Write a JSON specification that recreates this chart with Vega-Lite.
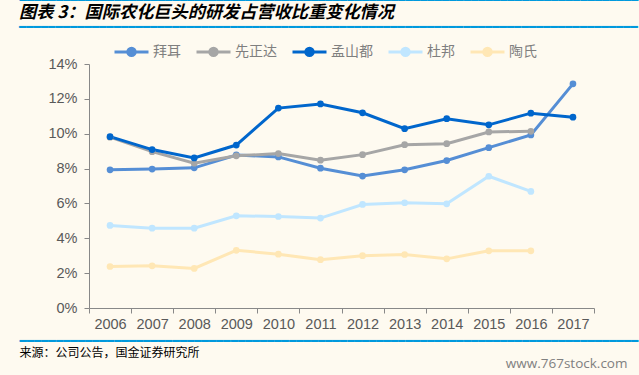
{
  "$schema": "https://vega.github.io/schema/vega-lite/v6.json",
  "width": 505,
  "height": 244,
  "autosize": "none",
  "padding": {"left": 89, "top": 64, "right": 45, "bottom": 67},
  "background": "#FEFAF0",
  "config": {"view": {"stroke": null}},
  "title": {
    "text": "图表 3：国际农化巨头的研发占营收比重变化情况",
    "subtitle": "━━━━━━━━━━━━━━━━━━━━━━━━━━━━━━━━━━━━━━━━━━━━━━━━━━━━━━━━━━━━━━━━━━━━━━━━━━━━━━━━━━━━━",
    "anchor": "start",
    "frame": "group",
    "dx": -70,
    "offset": -40,
    "font": "Noto Sans CJK SC",
    "fontSize": 17.2,
    "fontWeight": "bold",
    "fontStyle": "italic",
    "color": "#000000",
    "subtitleFont": "DejaVu Sans",
    "subtitleFontSize": 12.1,
    "subtitleColor": "#0099DD",
    "subtitlePadding": 0
  },
  "data": {
    "values": [
      {"year": "2006", "company": "拜耳", "value": 7.93},
      {"year": "2007", "company": "拜耳", "value": 7.97},
      {"year": "2008", "company": "拜耳", "value": 8.04},
      {"year": "2009", "company": "拜耳", "value": 8.78},
      {"year": "2010", "company": "拜耳", "value": 8.67},
      {"year": "2011", "company": "拜耳", "value": 8.02},
      {"year": "2012", "company": "拜耳", "value": 7.57},
      {"year": "2013", "company": "拜耳", "value": 7.93},
      {"year": "2014", "company": "拜耳", "value": 8.46},
      {"year": "2015", "company": "拜耳", "value": 9.2},
      {"year": "2016", "company": "拜耳", "value": 9.93},
      {"year": "2017", "company": "拜耳", "value": 12.86},
      {"year": "2006", "company": "先正达", "value": 9.8},
      {"year": "2007", "company": "先正达", "value": 8.97},
      {"year": "2008", "company": "先正达", "value": 8.31},
      {"year": "2009", "company": "先正达", "value": 8.73},
      {"year": "2010", "company": "先正达", "value": 8.86},
      {"year": "2011", "company": "先正达", "value": 8.48},
      {"year": "2012", "company": "先正达", "value": 8.8},
      {"year": "2013", "company": "先正达", "value": 9.37},
      {"year": "2014", "company": "先正达", "value": 9.43},
      {"year": "2015", "company": "先正达", "value": 10.1},
      {"year": "2016", "company": "先正达", "value": 10.14},
      {"year": "2006", "company": "孟山都", "value": 9.83},
      {"year": "2007", "company": "孟山都", "value": 9.09},
      {"year": "2008", "company": "孟山都", "value": 8.61},
      {"year": "2009", "company": "孟山都", "value": 9.35},
      {"year": "2010", "company": "孟山都", "value": 11.47},
      {"year": "2011", "company": "孟山都", "value": 11.71},
      {"year": "2012", "company": "孟山都", "value": 11.2},
      {"year": "2013", "company": "孟山都", "value": 10.29},
      {"year": "2014", "company": "孟山都", "value": 10.86},
      {"year": "2015", "company": "孟山都", "value": 10.51},
      {"year": "2016", "company": "孟山都", "value": 11.18},
      {"year": "2017", "company": "孟山都", "value": 10.95},
      {"year": "2006", "company": "杜邦", "value": 4.74},
      {"year": "2007", "company": "杜邦", "value": 4.58},
      {"year": "2008", "company": "杜邦", "value": 4.58},
      {"year": "2009", "company": "杜邦", "value": 5.29},
      {"year": "2010", "company": "杜邦", "value": 5.25},
      {"year": "2011", "company": "杜邦", "value": 5.16},
      {"year": "2012", "company": "杜邦", "value": 5.94},
      {"year": "2013", "company": "杜邦", "value": 6.04},
      {"year": "2014", "company": "杜邦", "value": 5.98},
      {"year": "2015", "company": "杜邦", "value": 7.56},
      {"year": "2016", "company": "杜邦", "value": 6.69},
      {"year": "2006", "company": "陶氏", "value": 2.38},
      {"year": "2007", "company": "陶氏", "value": 2.42},
      {"year": "2008", "company": "陶氏", "value": 2.27},
      {"year": "2009", "company": "陶氏", "value": 3.31},
      {"year": "2010", "company": "陶氏", "value": 3.09},
      {"year": "2011", "company": "陶氏", "value": 2.77},
      {"year": "2012", "company": "陶氏", "value": 3.0},
      {"year": "2013", "company": "陶氏", "value": 3.07},
      {"year": "2014", "company": "陶氏", "value": 2.82},
      {"year": "2015", "company": "陶氏", "value": 3.28},
      {"year": "2016", "company": "陶氏", "value": 3.28}
    ]
  },
  "layer": [
    {
      "mark": {"type": "line", "strokeWidth": 3},
      "encoding": {
        "x": {
          "field": "year", "type": "ordinal",
          "scale": {"type": "band", "paddingInner": 0, "paddingOuter": 0},
          "bandPosition": 0.5,
          "axis": {
            "orient": "bottom",
            "labelAngle": 0,
            "labelFont": "Liberation Sans",
            "labelFontSize": 14.5,
            "labelColor": "#595959",
            "labelPadding": 4,
            "tickBand": "extent",
            "tickSize": 5,
            "tickColor": "#888888",
            "domainColor": "#888888",
            "grid": false,
            "title": "来源：公司公告，国金证券研究所",
            "titleFont": "Noto Sans CJK SC",
            "titleFontSize": 12,
            "titleFontWeight": "normal",
            "titleColor": "#000000",
            "titleAnchor": "start",
            "titleAlign": "left",
            "titleBaseline": "middle",
            "titleX": -70,
            "titleY": 44
          }
        },
        "y": {
          "field": "value", "type": "quantitative",
          "scale": {"domain": [0, 14], "nice": false, "zero": true},
          "axis": {
            "values": [0, 2, 4, 6, 8, 10, 12, 14],
            "labelExpr": "datum.value + '%'",
            "labelFont": "Liberation Sans",
            "labelFontSize": 14.5,
            "labelColor": "#595959",
            "labelPadding": 7,
            "tickSize": 5,
            "tickColor": "#888888",
            "domainColor": "#888888",
            "grid": false,
            "title": "www.767stock.com",
            "titleFont": "Open Sans",
            "titleFontSize": 13.5,
            "titleFontWeight": "normal",
            "titleColor": "#808080",
            "titleAngle": 0,
            "titleAlign": "right",
            "titleBaseline": "middle",
            "titleX": 538,
            "titleY": 299
          }
        },
        "color": {
          "field": "company", "type": "nominal",
          "scale": {
            "domain": ["拜耳", "先正达", "孟山都", "杜邦", "陶氏"],
            "range": ["#558ED5", "#A6A6A6", "#0066CC", "#C0E6FF", "#FFE7B5"]
          },
          "legend": {
            "title": null,
            "orient": "none",
            "direction": "horizontal",
            "legendX": 24,
            "legendY": -31,
            "symbolType": "M-1,0L1,0M-0.22,0A0.22,0.22 0 1,0 0.22,0A0.22,0.22 0 1,0 -0.22,0Z",
            "symbolSize": 1156,
            "symbolStrokeWidth": 3,
            "labelFont": "Noto Sans CJK SC",
            "labelFontSize": 14,
            "labelColor": "#7F7F7F",
            "labelOffset": 3,
            "columnPadding": 9
          }
        }
      }
    },
    {
      "mark": {"type": "point", "filled": true, "size": 45, "opacity": 1},
      "encoding": {
        "x": {
          "field": "year", "type": "ordinal",
          "bandPosition": 0.5,
          "axis": {
            "orient": "top",
            "labels": false,
            "ticks": false,
            "domain": false,
            "grid": false,
            "title": "━━━━━━━━━━━━━━━━━━━━━━━━━━━━━━━━━━━━━━━━━━━━━━━━━━━━━━━━━━━━━━━━━━━━━━━━━━━━━━━━━━━━━",
            "titleFont": "DejaVu Sans",
            "titleFontSize": 12.1,
            "titleFontWeight": "normal",
            "titleColor": "#0099DD",
            "titleAlign": "left",
            "titleBaseline": "middle",
            "titleX": -70,
            "titleY": -65
          }
        },
        "y": {
          "field": "value", "type": "quantitative",
          "axis": {
            "orient": "right",
            "labels": false,
            "ticks": false,
            "domain": false,
            "grid": false,
            "title": "━━━━━━━━━━━━━━━━━━━━━━━━━━━━━━━━━━━━━━━━━━━━━━━━━━━━━━━━━━━━━━━━━━━━━━━━━━━━━━━━━━━━━",
            "titleFont": "DejaVu Sans",
            "titleFontSize": 12.1,
            "titleFontWeight": "normal",
            "titleColor": "#0099DD",
            "titleAngle": 0,
            "titleAlign": "left",
            "titleBaseline": "middle",
            "titleX": -575,
            "titleY": 276
          }
        },
        "color": {"field": "company", "type": "nominal"}
      }
    }
  ],
  "resolve": {"axis": {"x": "independent", "y": "independent"}}
}
